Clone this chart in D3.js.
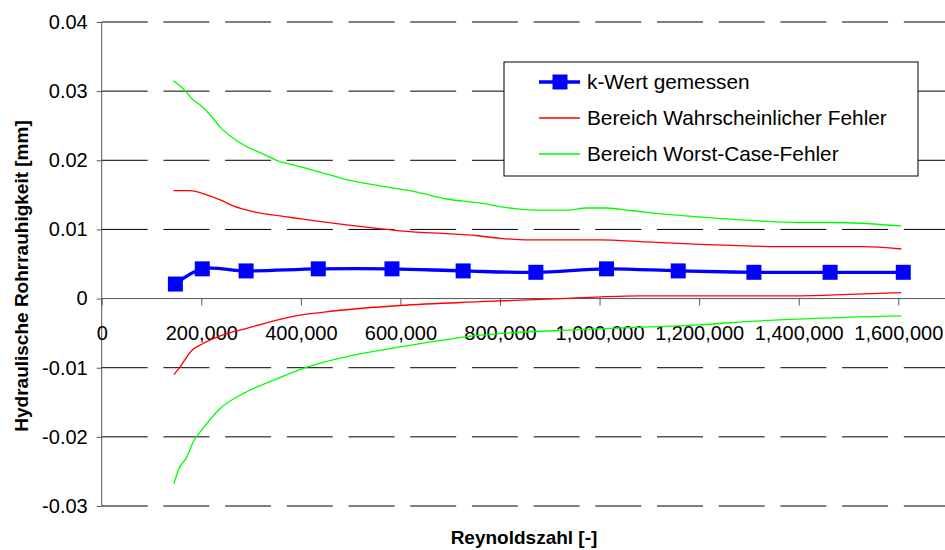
<!DOCTYPE html>
<html lang="de">

<head>
    <meta charset="UTF-8">
    <title>Hydraulische Rohrrauhigkeit</title>
    <script src="https://d3js.org/d3.v7.min.js"></script>
    <style>
        body {
            margin: 0;
            background: #fff;
        }

        svg {
            display: block;
            font-family: "Liberation Sans", Arial, sans-serif;
        }
    </style>
</head>

<body>
    <svg width="945" height="550"></svg>

    <script>
        // gemessene Werte
        const reynolds = [148000, 202000, 290000, 435000, 583000, 726000, 872000, 1014000, 1158000, 1310000, 1463000, 1610000];
        const kWert = [0.0021, 0.0043, 0.0040, 0.0043, 0.0043, 0.0040, 0.0038, 0.0043, 0.0040, 0.0038, 0.0038, 0.0038];

        // Bereich wahrscheinlicher Fehler (oben / unten)
        const reRedUp = [144000, 177000, 211000, 238000, 264000, 304000, 358000, 425000, 492000, 599000, 760000, 800000, 860000, 999000, 1094000, 1201000, 1382000, 1529000, 1606000];
        const redUp = [0.0156, 0.0156, 0.0150, 0.01426, 0.0134, 0.01257, 0.01195, 0.01127, 0.01065, 0.0098, 0.00905, 0.00872, 0.00848, 0.00848, 0.0082, 0.00785, 0.0075, 0.0075, 0.00717];
        const reRedLow = [145000, 157000, 181000, 201000, 238000, 291000, 331000, 398000, 465000, 599000, 760000, 934000, 1081000, 1201000, 1402000, 1502000, 1606000];
        const redLow = [-0.0110, -0.0099, -0.0075, -0.0066, -0.0054, -0.0043, -0.0035, -0.0024, -0.0018, -0.0010, -0.00045, 0.00004, 0.0004, 0.0004, 0.0004, 0.0006, 0.00085];

        // Bereich Worst-Case-Fehler (oben / unten)
        const reGreenUp = [144000, 167000, 181000, 201000, 221000, 238000, 264000, 288000, 325000, 358000, 392000, 438000, 492000, 559000, 626000, 693000, 760000, 820000, 867000, 934000, 974000, 1014000, 1067000, 1148000, 1201000, 1302000, 1402000, 1469000, 1606000];
        const greenUp = [0.0315, 0.0301, 0.0289, 0.0278, 0.0263, 0.0248, 0.0232, 0.0221, 0.0209, 0.0198, 0.0192, 0.0183, 0.0172, 0.0163, 0.0155, 0.0144, 0.0138, 0.0131, 0.0128, 0.0128, 0.0131, 0.0131, 0.0127, 0.0121, 0.0118, 0.0113, 0.0110, 0.0110, 0.0105];
        const reGreenLow = [145000, 154000, 171000, 184000, 201000, 238000, 288000, 345000, 412000, 492000, 599000, 760000, 961000, 1101000, 1201000, 1302000, 1606000];
        const greenLow = [-0.0268, -0.0248, -0.0229, -0.0207, -0.0190, -0.0159, -0.0136, -0.0118, -0.0099, -0.0084, -0.0070, -0.0053, -0.0045, -0.0041, -0.0038, -0.0033, -0.0025];

        const xTicks = [0, 200000, 400000, 600000, 800000, 1000000, 1200000, 1400000, 1600000];
        const yTicks = [-0.03, -0.02, -0.01, 0, 0.01, 0.02, 0.03, 0.04];

        const legendLabels = ["k-Wert gemessen", "Bereich Wahrscheinlicher Fehler", "Bereich Worst-Case-Fehler"];

        const width = 945;
        const height = 550;

        const svg = d3.select("svg");

        svg.append("rect")
            .attr("width", width)
            .attr("height", height)
            .attr("fill", "#fff");

        const x = d3.scaleLinear()
            .domain([0, 1600000])
            .range([101.7, 898.3]);

        const y = d3.scaleLinear()
            .domain([-0.03, 0.04])
            .range([506, 22]);

        const fmtX = d3.format(",");
        // Bindestrich statt Minuszeichen wie im Original
        const fmtY = d => d === 0 ? "0" : d.toFixed(2);

        // gestrichelte Gitterlinien
        svg.append("g")
            .selectAll("line")
            .data(yTicks.filter(d => d !== 0))
            .join("line")
            .attr("x1", x(0))
            .attr("x2", width)
            .attr("y1", d => y(d))
            .attr("y2", d => y(d))
            .attr("stroke", "#000")
            .attr("stroke-width", 1)
            .attr("stroke-dasharray", "46,15.7");

        // y-Achse
        const yAxis = svg.append("g")
            .attr("transform", `translate(${x(0)},0)`)
            .call(d3.axisLeft(y).tickValues(yTicks).tickFormat(fmtY).tickSize(5).tickPadding(9));

        yAxis.select(".domain")
            .attr("d", `M0,${y(0.04)}V${y(-0.03)}`)
            .attr("stroke", "#555");
        yAxis.selectAll(".tick line").attr("stroke", "#555");
        yAxis.selectAll(".tick text")
            .attr("font-size", 20)
            .attr("fill", "#000")
            .attr("font-family", "'Liberation Sans', Arial, sans-serif");

        // x-Achse bei y = 0
        const xAxis = svg.append("g")
            .attr("transform", `translate(0,${y(0)})`)
            .call(d3.axisBottom(x).tickValues(xTicks).tickFormat(fmtX).tickSize(7).tickPadding(20));

        xAxis.select(".domain")
            .attr("d", `M${x(0)},0H${width}`)
            .attr("stroke", "#555");
        xAxis.selectAll(".tick line").attr("stroke", "#555");
        xAxis.selectAll(".tick text")
            .attr("font-size", 20)
            .attr("fill", "#000")
            .attr("font-family", "'Liberation Sans', Arial, sans-serif");

        // Fehlerlinien
        const smooth = d3.line()
            .x(d => x(d[0]))
            .y(d => y(d[1]))
            .curve(d3.curveMonotoneX);

        const bands = [
            { re: reRedUp, v: redUp, color: "#ff0000" },
            { re: reRedLow, v: redLow, color: "#ff0000" },
            { re: reGreenUp, v: greenUp, color: "#00ff00" },
            { re: reGreenLow, v: greenLow, color: "#00ff00" }
        ];

        svg.append("g")
            .selectAll("path")
            .data(bands)
            .join("path")
            .attr("d", b => smooth(b.re.map((r, i) => [r, b.v[i]])))
            .attr("fill", "none")
            .attr("stroke", b => b.color)
            .attr("stroke-width", 1.3);

        // k-Wert gemessen
        const measured = reynolds.map((r, i) => [r, kWert[i]]);

        svg.append("path")
            .datum(measured)
            .attr("d", d3.line().x(d => x(d[0])).y(d => y(d[1])).curve(d3.curveCatmullRom))
            .attr("fill", "none")
            .attr("stroke", "#0000ff")
            .attr("stroke-width", 3.3);

        const sq = 15;
        svg.append("g")
            .selectAll("rect")
            .data(measured)
            .join("rect")
            .attr("x", d => x(d[0]) - sq / 2)
            .attr("y", d => y(d[1]) - sq / 2)
            .attr("width", sq)
            .attr("height", sq)
            .attr("fill", "#0000ff");

        // Achsentitel
        svg.append("text")
            .attr("transform", "translate(21,276) rotate(-90)")
            .attr("text-anchor", "middle")
            .attr("dy", "0.35em")
            .attr("font-size", 19)
            .attr("font-weight", "bold")
            .text("Hydraulische Rohrrauhigkeit [mm]");

        svg.append("text")
            .attr("x", 524)
            .attr("y", 544)
            .attr("text-anchor", "middle")
            .attr("font-size", 19)
            .attr("font-weight", "bold")
            .text("Reynoldszahl [-]");

        // Legende
        const legend = svg.append("g");

        legend.append("rect")
            .attr("x", 504)
            .attr("y", 62)
            .attr("width", 414)
            .attr("height", 114)
            .attr("fill", "#fff")
            .attr("stroke", "#000")
            .attr("stroke-width", 1);

        const legendColors = ["#0000ff", "#ff0000", "#00ff00"];

        const items = legend.selectAll("g.item")
            .data(legendLabels)
            .join("g")
            .attr("class", "item")
            .attr("transform", (d, i) => `translate(0,${82 + i * 36})`);

        items.append("line")
            .attr("x1", 539)
            .attr("x2", 580)
            .attr("stroke", (d, i) => legendColors[i])
            .attr("stroke-width", (d, i) => i === 0 ? 3.3 : 1.3);

        items.filter((d, i) => i === 0)
            .append("rect")
            .attr("x", 560 - sq / 2)
            .attr("y", -sq / 2)
            .attr("width", sq)
            .attr("height", sq)
            .attr("fill", "#0000ff");

        items.append("text")
            .attr("x", 587)
            .attr("dy", "0.35em")
            .attr("font-size", 20.8)
            .text(d => d);
    </script>
</body>

</html>
